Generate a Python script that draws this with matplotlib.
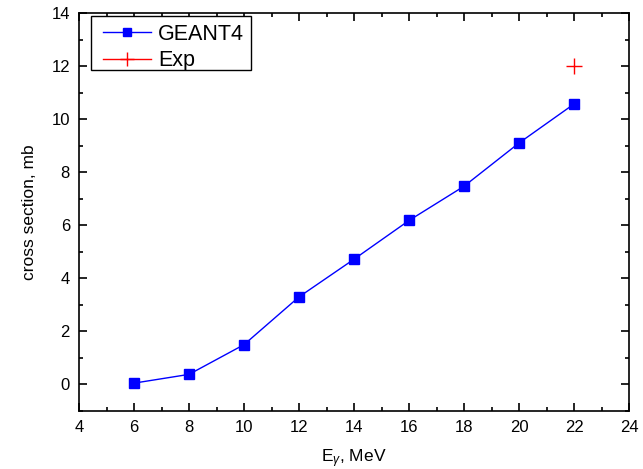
import matplotlib
matplotlib.use("Agg")
import matplotlib.pyplot as plt
from matplotlib.ticker import MultipleLocator
from matplotlib.patches import Rectangle

plt.rcParams['font.family'] = ['Liberation Sans', 'DejaVu Sans']
plt.rcParams['mathtext.fontset'] = 'custom'
plt.rcParams['mathtext.rm'] = 'Liberation Sans'
plt.rcParams['mathtext.it'] = 'Liberation Sans:italic'

energy = [6, 8, 10, 12, 14, 16, 18, 20, 22]
geant4 = [0.05, 0.38, 1.5, 3.3, 4.72, 6.18, 7.47, 9.1, 10.57]
exp_energy = [22]
exp_values = [12.0]

W, H = 643, 469
fig = plt.figure(figsize=(W / 100, H / 100), dpi=100)
ax = fig.add_axes([79 / W, 1 - 411 / H, 550 / W, 398 / H])

ax.plot(energy, geant4, color='blue', lw=1, marker='s', ms=6.5)
ax.plot(exp_energy, exp_values, color='red', lw=0, marker='+', ms=12, mew=1)

ax.set_xlim(4, 24)
ax.set_ylim(-1, 14)
ax.xaxis.set_major_locator(MultipleLocator(2))
ax.xaxis.set_minor_locator(MultipleLocator(1))
ax.yaxis.set_major_locator(MultipleLocator(2))
ax.yaxis.set_minor_locator(MultipleLocator(1))
ax.tick_params(which='both', direction='in', top=True, right=True, labelsize=12, width=1.2, pad=6.5)
ax.tick_params(which='major', length=6)
ax.tick_params(which='minor', length=3)
for s in ax.spines.values():
    s.set_linewidth(1.2)

ax.set_xlabel(r'E$_{\gamma}$, MeV', fontsize=12.5, labelpad=9)
ax.set_ylabel('cross section, mb', fontsize=12.5, labelpad=10)

h1, = ax.plot([], [], color='blue', lw=1, marker='s', ms=6)
h2, = ax.plot([], [], color='red', lw=1, marker='+', ms=10)
leg = ax.legend([h1, h2], ['GEANT4', 'Exp'], loc='upper left', fontsize=15.5,
                bbox_to_anchor=(103 / W, 1 - 23.5 / H), bbox_transform=fig.transFigure,
                frameon=False, borderaxespad=0, borderpad=0,
                handlelength=2.23, handletextpad=0.33, labelspacing=0.27)
leg.set_zorder(10)
ax.add_patch(Rectangle((91 / W, 1 - 70 / H), 160 / W, 54 / H, transform=fig.transFigure,
                       fill=True, facecolor='white', edgecolor='black', lw=1.0,
                       zorder=6, clip_on=False))

fig.savefig('out.png', dpi=100)
